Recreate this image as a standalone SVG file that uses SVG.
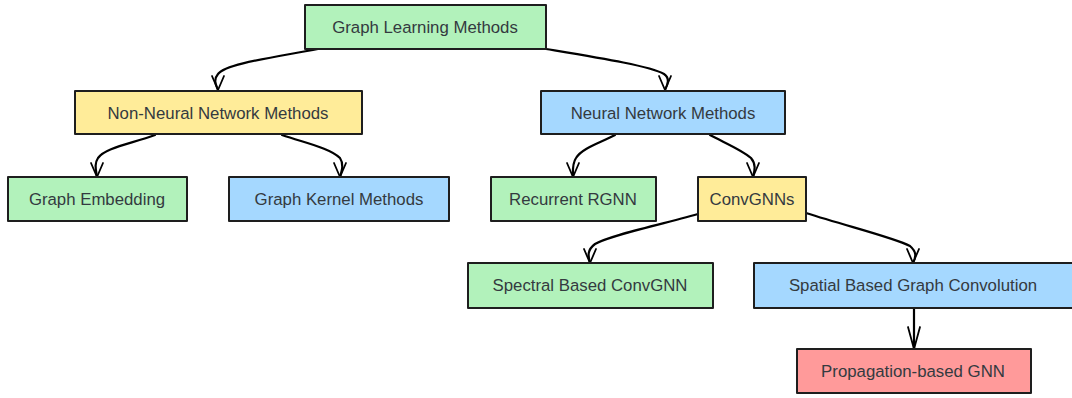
<svg xmlns="http://www.w3.org/2000/svg" width="1072" height="398" viewBox="0 0 1072 398">
<style>
.box{stroke:#1e1e1e;stroke-width:2;stroke-linejoin:round}
.g{fill:#b2f2bb}.y{fill:#ffec99}.b{fill:#a5d8ff}.r{fill:#ff9a9a}
text{font-family:"Liberation Sans",Arial,sans-serif;font-size:16.8px;fill:#343a40;text-anchor:middle;dominant-baseline:central}
.c{fill:none;stroke:#000;stroke-width:2.2;stroke-linecap:round;stroke-linejoin:round;marker-end:url(#ah)}
.c2{fill:none;stroke:#000;stroke-width:2.2;stroke-linecap:round;marker-end:url(#ah2)}
</style>
<defs>
<marker id="ah" markerWidth="16" markerHeight="18" refX="8" refY="16" orient="0" markerUnits="userSpaceOnUse" viewBox="0 0 16 18">
<path d="M2,2 L8,16 L14,2" fill="none" stroke="#000" stroke-width="1.8" stroke-linecap="round" stroke-linejoin="round"/>
</marker>
<marker id="ah2" markerWidth="16" markerHeight="26" refX="8" refY="24" orient="0" markerUnits="userSpaceOnUse" viewBox="0 0 16 26">
<path d="M2,2 L8,24 L14,2" fill="none" stroke="#000" stroke-width="1.8" stroke-linecap="round" stroke-linejoin="round"/>
</marker>
</defs>
<g id="connectors">
<path class="c" d="M318,49 C270,58 225,64 218,74 C213,80 216,85 218,90"/>
<path class="c" d="M546,49 C600,58 650,66 664,74 C670,78 668,84 665,90"/>
<path class="c" d="M155,135 C130,144 105,148 98,158 C94,164 96,170 97,177"/>
<path class="c" d="M282,135 C305,143 330,148 340,158 C344,164 342,170 340,177"/>
<path class="c" d="M615,135 C600,143 582,148 576,158 C572,164 573,170 573,177"/>
<path class="c" d="M710,135 C725,143 742,150 751,158 C756,164 755,170 753,177"/>
<path class="c" d="M698,214 C660,225 610,235 595,244 C587,250 588,256 590,263"/>
<path class="c" d="M806,213 C850,227 895,238 910,246 C917,252 916,257 913,263"/>
<path class="c2" d="M914,308 L914,349"/>
</g>
<g id="n1"><rect class="box g" x="305" y="5" width="241" height="44"/><text x="425" y="27">Graph Learning Methods</text></g>
<g id="n2"><rect class="box y" x="75" y="91" width="287" height="43"/><text x="218" y="113">Non-Neural Network Methods</text></g>
<g id="n3"><rect class="box b" x="541" y="91" width="244" height="43"/><text x="663" y="113">Neural Network Methods</text></g>
<g id="n4"><rect class="box g" x="8" y="177" width="179" height="44"/><text x="97" y="199">Graph Embedding</text></g>
<g id="n5"><rect class="box b" x="229" y="177" width="220" height="44"/><text x="339" y="199">Graph Kernel Methods</text></g>
<g id="n6"><rect class="box g" x="491" y="177" width="165" height="44"/><text x="573" y="199">Recurrent RGNN</text></g>
<g id="n7"><rect class="box y" x="698" y="177" width="108" height="44"/><text x="752" y="199">ConvGNNs</text></g>
<g id="n8"><rect class="box g" x="468" y="263" width="245" height="45"/><text x="590" y="285">Spectral Based ConvGNN</text></g>
<g id="n9"><rect class="box b" x="754" y="263" width="322" height="45"/><text x="913" y="285">Spatial Based Graph Convolution</text></g>
<g id="n10"><rect class="box r" x="797" y="349" width="234" height="44"/><text x="913" y="371">Propagation-based GNN</text></g>
</svg>
